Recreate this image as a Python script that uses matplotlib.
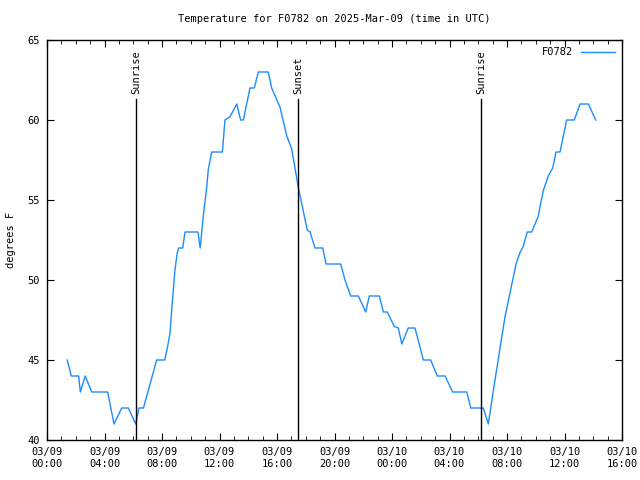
import matplotlib
matplotlib.use("Agg")
import matplotlib.pyplot as plt

# hours since 2025-03-09 00:00
hours = [1.41, 1.69, 2.2, 2.32, 2.66, 3.11, 4.22, 4.66, 5.2, 5.66, 6.17, 6.4, 6.71, 7.63,
         8.19, 8.37, 8.56, 8.67, 8.79, 8.9, 9.06, 9.16, 9.44, 9.6, 10.5, 10.66, 10.87,
         11.11, 11.22, 11.46, 12.2, 12.38, 12.73, 13.2, 13.47, 13.66, 14.12, 14.42, 14.7,
         15.39, 15.63, 16.21, 16.68, 17.02, 17.48, 17.83, 18.11, 18.3, 18.64, 19.18, 19.41,
         20.43, 20.73, 21.13, 21.66, 22.17, 22.42, 23.12, 23.4, 23.67, 24.16, 24.44, 24.68,
         25.13, 25.6, 26.18, 26.69, 27.15, 27.69, 28.22, 29.2, 29.48, 30.35, 30.7, 31.05,
         31.28, 31.56, 31.86, 32.21, 32.63, 32.9, 33.13, 33.41, 33.72, 34.18, 34.3, 34.53,
         34.87, 35.18, 35.41, 35.69, 35.92, 36.15, 36.68, 37.08, 37.66, 38.17]
temps = [45, 44, 44, 43, 44, 43, 43, 41, 42, 42, 41, 42, 42, 45,
         45, 45.75, 46.7, 48.1, 49.4, 50.6, 51.7, 52, 52, 53, 53, 52, 54,
         55.8, 56.9, 58, 58, 60, 60.2, 61, 60, 60, 62, 62, 63,
         63, 62, 60.8, 59, 58.2, 55.8, 54.3, 53.1, 53, 52, 52, 51,
         51, 50, 49, 49, 48, 49, 49, 48, 48, 47.1, 47, 46,
         47, 47, 45, 45, 44, 44, 43, 43, 42, 42, 41, 43.1,
         44.4, 46, 47.7, 49.2, 51, 51.7, 52.1, 53, 53, 54, 54.6, 55.6,
         56.5, 57, 58, 58, 59, 60, 60, 61, 61, 60]

event_hours = [6.19, 17.46, 30.19]
event_labels = ["Sunrise", "Sunset", "Sunrise"]

tick_hours = [0, 4, 8, 12, 16, 20, 24, 28, 32, 36, 40]
tick_labels = ["03/09\n00:00", "03/09\n04:00", "03/09\n08:00", "03/09\n12:00",
               "03/09\n16:00", "03/09\n20:00", "03/10\n00:00", "03/10\n04:00",
               "03/10\n08:00", "03/10\n12:00", "03/10\n16:00"]
y_ticks = [40, 45, 50, 55, 60, 65]

plt.rcParams['font.family'] = ['DejaVu Sans Mono']
fs = 7.5

fig = plt.figure(figsize=(6.4, 4.8), dpi=100)
ax = fig.add_axes([47/640, 40/480, 575/640, 400/480])

ax.plot(hours, temps, color='#1a8cff', lw=1.0, label='F0782')

for h, lab in zip(event_hours, event_labels):
    ax.axvline(h, ymin=0, ymax=(440-99)/400, color='black', lw=1.0)
    ax.text(h, 40 + (440-94)/16, lab, rotation=90, ha='center', va='bottom', fontsize=fs)

ax.set_xlim(0, 40)
ax.set_ylim(40, 65)
ax.set_xticks(tick_hours)
ax.set_xticklabels(tick_labels, fontsize=fs)
ax.set_xticks(range(0, 41), minor=True)
ax.set_yticks(y_ticks)
ax.set_yticklabels([str(v) for v in y_ticks], fontsize=fs)
ax.tick_params(axis='both', which='both', direction='in', top=True, right=True)
ax.tick_params(axis='both', which='major', length=5, pad=5)
ax.tick_params(axis='x', which='minor', length=3)
for s in ax.spines.values():
    s.set_linewidth(1.0)

ax.set_ylabel('degrees F', fontsize=fs, labelpad=8)
ax.set_title('Temperature for F0782 on 2025-Mar-09 (time in UTC)', fontsize=fs, pad=13)

leg = ax.legend(loc='upper right', fontsize=fs, frameon=False, markerfirst=False,
                handlelength=3.2, borderaxespad=0.3, handletextpad=0.8)

fig.savefig('out.png', dpi=100)
